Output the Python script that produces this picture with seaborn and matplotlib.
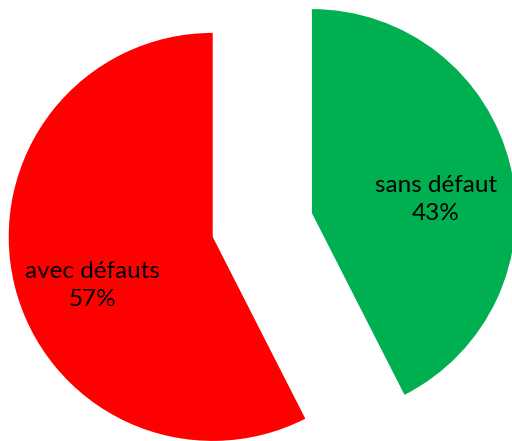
import matplotlib
matplotlib.use("Agg")
import matplotlib.pyplot as plt
import seaborn as sns

labels = ["sans défaut", "avec défauts"]
values = [42.5, 57.5]
pct_labels = ["43%", "57%"]
colors = ["#00B050", "#FF0000"]

sns.set_style("white")
plt.rcParams['font.family'] = ['Lato', 'DejaVu Sans']

fig = plt.figure(figsize=(5.12, 4.41), dpi=100)
ax = fig.add_axes([0, 0, 1, 1])

# pie geometry in pixels
r_px = 204.0
cx, cy = 262.3, 441 - 225

wedges, texts, autotexts = ax.pie(values, colors=colors, startangle=90, counterclock=False,
                                  explode=[0.25, 0.25], radius=1, pctdistance=0.6,
                                  autopct='%1.0f%%', textprops={'fontsize': 17.5, 'color': 'black'},
                                  wedgeprops={'linewidth': 0})
# labels nudged from matplotlib's default spot, like the original
shifts = [(5, -15), (-1, -20)]
for t, lab, pl, (sx, sy) in zip(autotexts, labels, pct_labels, shifts):
    t.set_text(f"{lab}\n{pl}")
    t.set_linespacing(1.45)
    x, y = t.get_position()
    t.set_position((x + sx / r_px, y + sy / r_px))

ax.set_aspect('auto')
ax.set_xlim(-cx / r_px, (512 - cx) / r_px)
ax.set_ylim(-cy / r_px, (441 - cy) / r_px)
ax.axis('off')

fig.savefig("out.png", dpi=100)
